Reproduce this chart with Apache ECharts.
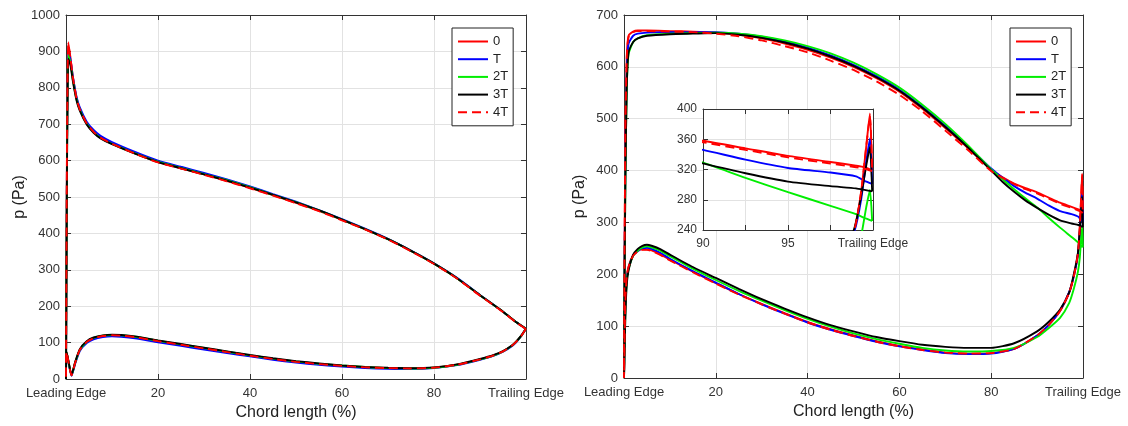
<!DOCTYPE html>
<html>
<head>
<meta charset="utf-8">
<script src="https://cdn.jsdelivr.net/npm/echarts@6/dist/echarts.min.js"></script>
<style>
html,body{margin:0;padding:0;background:#fff;}
#c{width:1128px;height:426px;}
</style>
</head>
<body>
<div id="c"></div>
<script>
// ---------- data ----------
const seriesNames = ['0', 'T', '2T', '3T', '4T'];
const seriesColors = ['#ff0000', '#0000ff', '#00ee00', '#000000', '#ff0000'];

// Left panel: upper surface
const leftUpperX = [0, 0.2, 0.5, 1, 1.5, 2.3, 3, 4.5, 6, 7.5, 10, 15, 20, 25, 30, 35, 40, 45, 50, 55, 60, 65, 70, 75, 80, 85, 90, 95, 98, 100];
const leftUpper0  = [0, 600, 925, 880, 830, 772, 742, 703, 680, 664, 647, 620, 596, 579, 562, 544, 525, 505, 484, 462, 437, 412, 384, 352, 317, 277, 230, 185, 155, 138];
const leftUpperT  = [0, 580, 905, 875, 830, 775, 746, 707, 684, 668, 651, 624, 600, 583, 566, 548, 529, 508, 487, 464, 439, 413, 385, 353, 318, 278, 231, 185, 155, 138];
const leftUpper2T = [0, 560, 890, 865, 822, 768, 740, 701, 678, 662, 646, 620, 597, 580, 563, 546, 527, 506, 486, 463, 438, 412, 384, 352, 317, 277, 230, 185, 155, 138];
const leftUpper3T = [0, 540, 880, 860, 818, 765, 737, 699, 676, 661, 645, 619, 596, 579, 562, 545, 526, 506, 485, 463, 438, 412, 384, 352, 317, 277, 230, 185, 155, 138];
const leftUpper4T = [0, 600, 920, 878, 828, 770, 741, 702, 679, 663, 646, 619, 595, 578, 561, 543, 524, 504, 483, 461, 436, 411, 383, 351, 316, 276, 229, 184, 154, 137];

// Left panel: lower surface
const leftLowerX = [0, 0.1, 0.5, 1.2, 2, 3, 4.5, 6, 8, 10, 12, 15, 20, 25, 30, 35, 40, 45, 50, 55, 60, 65, 70, 75, 80, 85, 90, 93, 95, 97, 98, 99, 100];
const leftLower0  = [0, 75, 50, 10, 45, 80, 102, 112, 118, 120, 119, 115, 104, 94, 84, 74, 64, 55, 47, 41, 36, 32, 30, 29, 31, 39, 54, 65, 76, 92, 104, 119, 138];
const leftLowerT  = [0, 72, 48, 9, 42, 77, 99, 109, 115, 117, 116, 112, 101, 91, 81, 71, 62, 53, 45, 39, 34, 30, 28, 27, 30, 38, 53, 64, 75, 91, 103, 119, 138];
const leftLower2T = [0, 74, 50, 10, 45, 80, 102, 113, 119, 121, 120, 116, 105, 95, 85, 75, 65, 56, 48, 42, 37, 33, 30, 29, 31, 39, 54, 65, 76, 92, 104, 119, 138];
const leftLower3T = [0, 76, 52, 11, 47, 82, 104, 114, 120, 122, 121, 117, 106, 96, 86, 76, 66, 57, 49, 43, 37, 33, 31, 30, 32, 40, 55, 66, 77, 93, 105, 120, 139];
const leftLower4T = [0, 75, 50, 10, 45, 80, 102, 112, 118, 120, 119, 115, 104, 94, 84, 74, 64, 55, 47, 41, 36, 32, 30, 29, 31, 39, 54, 65, 76, 92, 104, 119, 138];

// Right panel: upper surface
const rightUpperX = [0, 0.3, 0.6, 1, 2, 3, 5, 10, 15, 20, 25, 30, 35, 40, 45, 50, 55, 60, 65, 70, 75, 80, 82.5, 85, 87.5, 90, 92.5, 95, 97.5, 99, 99.5, 99.95];
const rightUpper0  = [5, 480, 620, 660, 668, 670, 670, 669, 668, 666, 662, 655, 645, 633, 618, 600, 578, 552, 519, 482, 443, 401, 387, 375, 366, 358, 348, 338, 330, 325, 323, 319];
const rightUpperT  = [5, 420, 590, 645, 660, 664, 666, 667, 667, 667, 664, 658, 649, 637, 622, 604, 582, 556, 523, 486, 446, 404, 386, 370, 357, 346, 333, 322, 316, 311, 305, 301];
const rightUpper2T = [5, 380, 560, 625, 648, 655, 661, 664, 665, 666, 664, 659, 651, 640, 626, 608, 586, 560, 527, 490, 448, 402, 383, 364, 346, 329, 309, 290, 272, 261, 256, 252];
const rightUpper3T = [5, 380, 560, 628, 648, 655, 660, 663, 664, 665, 662, 656, 647, 635, 620, 602, 580, 554, 521, 484, 444, 400, 378, 359, 342, 328, 315, 304, 298, 295, 293, 291];
const rightUpper4T = [5, 470, 615, 658, 667, 669, 669, 668, 667, 664, 659, 651, 640, 628, 612, 594, 572, 546, 514, 477, 439, 399, 386, 374, 364, 356, 346, 336, 328, 323, 321, 318];

// Right panel: lower surface (ends at the trailing-edge spike)
const rightLowerX = [0, 0.3, 0.6, 1, 2, 3, 4, 5, 6, 8, 10, 15, 20, 25, 30, 35, 40, 45, 50, 55, 60, 65, 70, 75, 80, 85, 90, 92.5, 95, 97, 98, 98.9, 99.3, 99.6, 99.82];
const rightLower0  = [0, 150, 195, 215, 237, 245, 248, 248, 246, 238, 228, 205, 183, 162, 143, 125, 108, 94, 82, 71, 62, 55, 49, 47, 48, 56, 82, 102, 129, 165, 196, 240, 290, 350, 394];
const rightLowerT  = [0, 140, 190, 212, 236, 245, 250, 251, 249, 241, 230, 206, 184, 162, 142, 124, 107, 93, 81, 70, 61, 54, 48, 46, 47, 56, 82, 102, 130, 166, 197, 238, 280, 330, 361];
const rightLower2T = [0, 130, 185, 210, 236, 246, 252, 254, 252, 245, 235, 211, 189, 168, 149, 131, 114, 99, 86, 75, 66, 58, 53, 51, 52, 58, 79, 96, 116, 145, 172, 205, 232, 270, 293];
const rightLower3T = [0, 120, 180, 208, 238, 249, 255, 257, 255, 248, 238, 214, 193, 172, 152, 134, 117, 102, 90, 79, 71, 64, 60, 58, 58, 67, 90, 108, 132, 165, 200, 242, 285, 325, 350];
const rightLower4T = [0, 150, 195, 214, 236, 244, 247, 247, 245, 237, 227, 204, 182, 161, 142, 124, 107, 93, 81, 70, 61, 54, 49, 47, 48, 56, 82, 102, 129, 165, 196, 240, 290, 350, 390];

// Tick labels / ranges
const leftYTicks = [0, 1000, 100];
const rightYTicks = [0, 700, 100];
const insetXRange = [90, 100, 2.5];
const insetYRange = [240, 400, 40];
const leadingLabel = 'Leading Edge';
const trailingLabel = 'Trailing Edge';
const xName = 'Chord length (%)';
const yName = 'p (Pa)';

// ---------- build ----------
const FONT = '"Liberation Sans", Arial, Helvetica, sans-serif';
const AX = '#333333';
const GRIDC = '#e2e2e2';

function loop(upX, upY, loX, loY, closeToUpperEnd) {
  const pts = [];
  for (let i = upX.length - 1; i >= 0; i--) pts.push([upX[i], upY[i]]);
  for (let i = 0; i < loX.length; i++) pts.push([loX[i], loY[i]]);
  if (closeToUpperEnd) pts.push([upX[upX.length - 1], upY[upY.length - 1]]);
  return pts;
}

const leftData = [
  loop(leftUpperX, leftUpper0, leftLowerX, leftLower0),
  loop(leftUpperX, leftUpperT, leftLowerX, leftLowerT),
  loop(leftUpperX, leftUpper2T, leftLowerX, leftLower2T),
  loop(leftUpperX, leftUpper3T, leftLowerX, leftLower3T),
  loop(leftUpperX, leftUpper4T, leftLowerX, leftLower4T)
];
const rightData = [
  loop(rightUpperX, rightUpper0, rightLowerX, rightLower0, true),
  loop(rightUpperX, rightUpperT, rightLowerX, rightLowerT, true),
  loop(rightUpperX, rightUpper2T, rightLowerX, rightLower2T, true),
  loop(rightUpperX, rightUpper3T, rightLowerX, rightLower3T, true),
  loop(rightUpperX, rightUpper4T, rightLowerX, rightLower4T, true)
];

function edgeLabel(v) {
  if (v === 0) return leadingLabel;
  if (v === 100) return trailingLabel;
  return String(v);
}
function plainLabel(v) { return String(v); }

function mainX(gi, mn, mx, iv, labelFn, fs) {
  return [
    { type: 'value', gridIndex: gi, min: mn, max: mx, interval: iv, position: 'bottom',
      name: gi === 2 ? '' : xName, nameLocation: 'middle', nameGap: 24,
      nameTextStyle: { fontFamily: FONT, fontSize: 16, color: '#222' },
      axisLine: { show: true, onZero: false, lineStyle: { color: AX, width: 1 } },
      axisTick: { show: true, inside: true, length: 5, lineStyle: { color: AX } },
      axisLabel: { show: true, margin: 8, fontFamily: FONT, fontSize: fs, color: '#333', formatter: labelFn, showMinLabel: true, showMaxLabel: true },
      splitLine: { show: true, lineStyle: { color: GRIDC, width: 1 } },
      z: gi === 2 ? 6 : 0 },
    { type: 'value', gridIndex: gi, min: mn, max: mx, interval: iv, position: 'top',
      axisLine: { show: true, onZero: false, lineStyle: { color: AX, width: 1 } },
      axisTick: { show: true, inside: true, length: 5, lineStyle: { color: AX } },
      axisLabel: { show: false }, splitLine: { show: false },
      z: gi === 2 ? 6 : 0 }
  ];
}
function mainY(gi, mn, mx, iv, withName, fs) {
  return [
    { type: 'value', gridIndex: gi, min: mn, max: mx, interval: iv, position: 'left',
      name: withName ? yName : '', nameLocation: 'middle', nameGap: 36, nameRotate: 90,
      nameTextStyle: { fontFamily: FONT, fontSize: 16, color: '#222' },
      axisLine: { show: true, onZero: false, lineStyle: { color: AX, width: 1 } },
      axisTick: { show: true, inside: true, length: 5, lineStyle: { color: AX } },
      axisLabel: { show: true, margin: 6, fontFamily: FONT, fontSize: fs, color: '#333', formatter: plainLabel },
      splitLine: { show: true, lineStyle: { color: GRIDC, width: 1 } },
      z: gi === 2 ? 6 : 0 },
    { type: 'value', gridIndex: gi, min: mn, max: mx, interval: iv, position: 'right',
      axisLine: { show: true, onZero: false, lineStyle: { color: AX, width: 1 } },
      axisTick: { show: true, inside: true, length: 5, lineStyle: { color: AX } },
      axisLabel: { show: false }, splitLine: { show: false },
      z: gi === 2 ? 6 : 0 }
  ];
}

function insetXLabel(v) {
  if (v === 100) return trailingLabel;
  if (v % 5 === 0) return String(v);
  return '';
}

const xAxes = [].concat(
  mainX(0, 0, 100, 20, edgeLabel, 13),
  mainX(1, 0, 100, 20, edgeLabel, 13),
  mainX(2, insetXRange[0], insetXRange[1], insetXRange[2], insetXLabel, 12)
);
const yAxes = [].concat(
  mainY(0, leftYTicks[0], leftYTicks[1], leftYTicks[2], true, 13),
  mainY(1, rightYTicks[0], rightYTicks[1], rightYTicks[2], true, 13),
  mainY(2, insetYRange[0], insetYRange[1], insetYRange[2], false, 12)
);

const series = [];
function addSeries(data, xi, yi, z) {
  data.forEach((d, i) => {
    series.push({
      type: 'line', name: seriesNames[i], xAxisIndex: xi, yAxisIndex: yi,
      data: d, showSymbol: false, symbol: 'none', smooth: 0.2, clip: true,
      animation: false, z: z,
      lineStyle: { color: seriesColors[i], width: 1.9, type: i === 4 ? [9, 5] : 'solid' },
      itemStyle: { color: seriesColors[i] }
    });
  });
}
addSeries(leftData, 0, 0, 2);
addSeries(rightData, 2, 2, 2);
addSeries(rightData, 4, 4, 7);

function legendAt(left) {
  return {
    data: seriesNames, orient: 'vertical', left: left, top: 28,
    itemWidth: 30, itemHeight: 14, itemGap: 4.7,
    padding: [7, 5, 7, 5], borderColor: '#222', borderWidth: 1, borderRadius: 0,
    backgroundColor: '#fff',
    itemStyle: { opacity: 0, borderWidth: 0 },
    textStyle: { fontFamily: FONT, fontSize: 13, color: '#222' },
    selectedMode: false, z: 10
  };
}

const option = {
  animation: false,
  backgroundColor: '#fff',
  grid: [
    { left: 66, top: 15, width: 460, height: 364 },
    { left: 624, top: 15, width: 459, height: 363 },
    { left: 703, top: 109, width: 170, height: 121, show: true, backgroundColor: '#fff', borderWidth: 0, z: 5 }
  ],
  xAxis: xAxes,
  yAxis: yAxes,
  legend: [legendAt(452), legendAt(1010)],
  series: series
};

const chart = echarts.init(document.getElementById('c'), null, { renderer: 'canvas' });
chart.setOption(option);
</script>
</body>
</html>
